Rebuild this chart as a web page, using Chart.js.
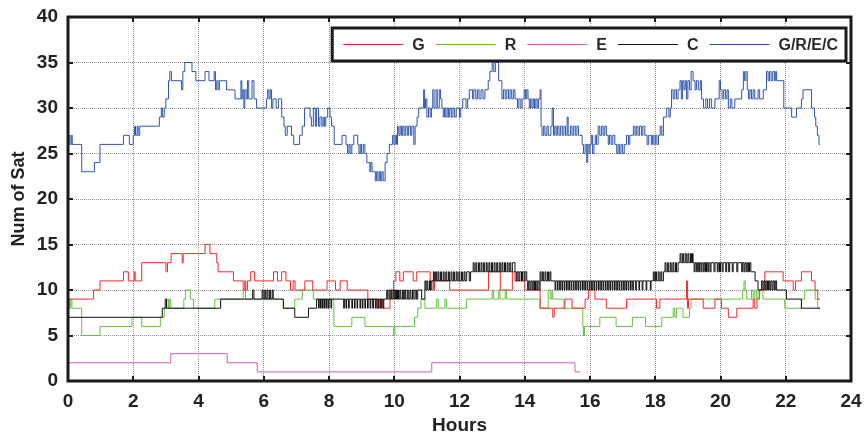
<!DOCTYPE html>
<html>
<head>
<meta charset="utf-8">
<script src="https://cdn.jsdelivr.net/npm/chart.js@4.4.1/dist/chart.umd.min.js"></script>
<style>
  html, body { margin: 0; padding: 0; background: #fff; }
  #wrap { width: 864px; height: 435px; position: relative; }
</style>
</head>
<body>
<div id="wrap"><canvas id="sat"></canvas></div>
<script>
// Number of visible satellites per constellation over 24 h (step data: [hour, count])
const seriesLabels = ['G', 'R', 'E', 'C', 'G/R/E/C'];
const xTicks = [0, 2, 4, 6, 8, 10, 12, 14, 16, 18, 20, 22, 24];
const yTicks = [0, 5, 10, 15, 20, 25, 30, 35, 40];

const gpsSats = [
  [0,9],[0.78,10],[0.98,11],[1.7,12],[1.85,11],[2.03,12],[2.06,11],[2.26,13],[3.0,12],[3.05,13],[3.16,14],
  [3.5,13],[3.53,14],[4.2,15],[4.35,14],[4.56,13],[4.6,12],[5.07,11],[5.37,10],[5.42,11],[5.45,10],[5.5,11],
  [5.6,12],[5.72,11],[6.3,12],[6.42,11],[6.55,12],[6.68,11],[6.82,10],[6.9,11],[6.96,10],[7.26,11],[7.5,10],
  [7.94,11],[8.2,10],[8.34,11],[8.56,10],[9.19,9],[9.46,8],[9.5,9],[9.54,8],[9.6,9],[9.64,8],[9.87,9],
  [9.92,10],[9.98,11],[10.05,12],[10.17,11],[10.28,12],[10.58,11],[10.69,12],[11.1,11],[11.2,10],[11.23,11],
  [11.7,10],[12.89,12],[13.25,10],[13.62,12],[13.7,11],[14.0,10],[14.47,8],[14.86,7],[14.9,8],[15.23,9],
  [15.45,8],[15.85,9],[15.95,10],[16.15,9],[16.5,8],[17.12,9],[18.04,8],[18.14,9],[18.96,11],[18.99,8],
  [19.02,9],[19.47,8],[19.83,9],[20.03,8],[20.24,7],[20.5,8],[21.0,9],[21.05,8],[21.12,9],[21.2,10],
  [21.36,12],[21.92,11],[22.23,10],[22.3,11],[22.48,12],[22.79,11],[22.9,10],[22.98,9],[23.05,9]
];

const glonassSats = [
  [0,9],[0.04,8],[0.08,9],[0.12,8],[0.42,5],[0.98,6],[1.96,7],[2.26,6],[2.83,7],[2.95,8],[3.03,9],[3.08,8],
  [3.12,9],[3.15,8],[3.55,9],[3.6,10],[3.75,9],[3.85,8],[4.5,9],[5.37,10],[5.44,9],[6.6,8],[6.95,9],[7.18,10],
  [7.52,9],[8.15,6],[8.7,7],[9.1,6],[9.98,5],[10.02,6],[10.62,7],[10.72,8],[10.82,9],[10.94,8],[11.3,9],
  [11.35,8],[11.55,9],[11.6,8],[12.22,9],[13.0,10],[13.04,9],[13.2,10],[13.24,9],[13.4,10],[13.44,9],
  [14.47,8],[14.72,10],[14.78,9],[14.83,10],[14.86,9],[15.2,8],[15.78,6],[15.8,5],[15.83,6],[16.3,7],
  [16.8,6],[17.3,7],[17.7,6],[18.2,7],[18.55,8],[18.6,7],[18.65,8],[18.85,7],[19.05,8],[19.1,9],[20.68,10],
  [20.72,11],[20.76,10],[20.8,9],[20.95,10],[21.0,9],[21.05,10],[21.1,9],[21.15,10],[21.3,9],[21.97,8],
  [22.48,9],[22.58,10],[22.9,9],[22.98,8],[23.05,8]
];

const galileoSats = [
  [0,2],[3.15,3],[4.88,2],[5.8,1],[11.15,2],[15.54,1],[15.7,1]
];

const beidouSats = [
  [0,7],[2.89,8],[2.98,9],[3.02,8],[4.68,9],[5.66,10],[5.7,9],[5.95,10],[5.98,9],[6.03,10],[6.06,9],[6.1,10],
  [6.13,9],[6.18,10],[6.21,9],[6.26,10],[6.29,9],[6.6,8],[6.95,7],[7.37,8],[7.62,9],
  [7.68,8],[7.7,9],[7.74,8],[7.76,9],[7.8,8],[7.82,9],[7.86,8],[7.88,9],[7.92,8],[7.94,9],[7.98,8],[8.0,9],
  [8.06,8],[8.08,9],[8.45,8],[8.47,9],[8.52,8],[8.54,9],[8.6,8],[8.62,9],[8.7,8],[8.72,9],[8.78,8],[8.8,9],
  [8.86,8],[8.88,9],[8.95,8],[8.97,9],[9.02,8],[9.04,9],[9.1,8],[9.12,9],[9.18,8],[9.2,9],[9.26,8],[9.28,9],
  [9.34,8],[9.36,9],[9.42,8],[9.44,9],[9.5,8],[9.52,9],[9.58,8],[9.6,9],[9.66,8],[9.68,9],
  [9.77,10],[9.8,9],[9.84,10],[9.87,9],[9.9,10],[9.93,9],[9.97,10],[10.0,9],[10.04,10],[10.07,9],[10.1,10],
  [10.13,9],[10.17,10],[10.2,9],[10.25,10],[10.28,9],[10.32,10],[10.35,9],[10.4,10],[10.43,9],[10.48,10],
  [10.51,9],[10.56,10],[10.6,9],[10.64,10],[10.68,9],[10.72,10],[10.84,9],[10.94,11],[10.97,10],[11.0,11],
  [11.03,10],[11.08,11],[11.11,10],[11.15,11],
  [11.2,12],[11.23,11],[11.27,12],[11.3,11],[11.34,12],[11.37,11],[11.42,12],[11.45,11],[11.5,12],[11.53,11],
  [11.58,12],[11.61,11],[11.66,12],[11.69,11],[11.74,12],[11.77,11],[11.82,12],[11.85,11],[11.9,12],[11.93,11],
  [11.98,12],[12.01,11],[12.06,12],[12.09,11],[12.14,12],[12.17,11],[12.22,12],[12.3,11],[12.34,12],
  [12.42,13],[12.45,12],[12.5,13],[12.53,12],[12.58,13],[12.61,12],[12.66,13],[12.69,12],[12.74,13],[12.77,12],
  [12.82,13],[12.85,12],[12.9,13],[12.93,12],[12.98,13],[13.01,12],[13.06,13],[13.09,12],[13.14,13],[13.17,12],
  [13.22,13],[13.25,12],[13.3,13],[13.33,12],[13.38,13],[13.41,12],[13.46,13],[13.49,12],[13.54,13],[13.57,12],
  [13.62,13],[13.7,12],[13.74,11],[13.77,12],[13.82,11],[13.85,12],[13.9,11],[13.93,12],[13.98,11],[14.01,12],
  [14.06,11],[14.09,10],[14.12,11],[14.16,10],[14.19,11],[14.23,10],[14.26,11],[14.3,10],[14.33,11],[14.37,10],
  [14.4,11],[14.44,10],[14.47,12],[14.5,11],[14.54,12],[14.57,11],[14.62,12],[14.65,11],[14.7,12],[14.73,11],
  [14.77,12],[14.8,11],
  [14.93,10],[14.95,11],[15.0,10],[15.02,11],[15.07,10],[15.09,11],[15.14,10],[15.16,11],[15.21,10],[15.23,11],
  [15.28,10],[15.3,11],[15.35,10],[15.37,11],[15.42,10],[15.44,11],[15.49,10],[15.51,11],[15.56,10],[15.58,11],
  [15.63,10],[15.65,11],[15.7,10],[15.72,11],[15.77,10],[15.79,11],[15.84,10],[15.86,11],[15.91,10],[15.93,11],
  [15.98,10],[16.0,11],[16.05,10],[16.07,11],[16.12,10],[16.14,11],[16.19,10],[16.21,11],[16.26,10],[16.28,11],
  [16.33,10],[16.35,11],[16.4,10],[16.42,11],[16.47,10],[16.49,11],[16.54,10],[16.56,11],[16.61,10],[16.63,11],
  [16.68,10],[16.7,11],[16.75,10],[16.77,11],[16.82,10],[16.84,11],[16.89,10],[16.91,11],[16.96,10],[16.98,11],
  [17.03,10],[17.05,11],[17.1,10],[17.12,11],[17.17,10],[17.19,11],[17.24,10],[17.26,11],[17.31,10],[17.33,11],
  [17.4,10],[17.42,11],[17.5,10],[17.52,11],[17.6,10],[17.62,11],[17.72,10],[17.74,11],[17.85,10],[17.87,11],
  [17.94,12],[17.97,11],[18.01,12],[18.04,11],[18.09,12],[18.12,11],[18.17,12],[18.2,11],[18.25,12],
  [18.3,13],[18.33,12],[18.38,13],[18.41,12],[18.46,13],[18.49,12],[18.54,13],[18.57,12],[18.62,13],[18.65,12],
  [18.7,13],[18.76,14],[18.79,13],[18.84,14],[18.87,13],[18.92,14],[18.95,13],[19.0,14],[19.03,13],[19.08,14],
  [19.11,13],[19.14,14],[19.16,13],[19.19,12],[19.22,13],[19.26,12],[19.29,13],[19.33,12],[19.36,13],[19.4,12],
  [19.43,13],[19.47,12],[19.5,13],[19.54,12],[19.57,13],[19.61,12],[19.64,13],[19.68,12],[19.71,13],[19.8,12],
  [19.83,13],[19.9,12],[19.93,13],[19.97,12],[20.0,13],[20.05,12],[20.08,13],[20.16,12],[20.19,13],[20.25,12],
  [20.28,13],[20.36,12],[20.39,13],[20.5,12],[20.53,13],[20.65,12],[20.68,13],[20.72,12],[20.75,13],[20.79,12],
  [20.82,13],[20.86,12],[20.89,13],[20.93,12],[21.06,11],[21.15,10],[21.26,11],[21.3,10],[21.33,11],[21.37,10],
  [21.4,11],[21.44,10],[21.47,11],[21.51,10],[21.54,11],[21.58,10],[21.61,11],[21.65,10],[21.68,11],[21.72,10],
  [22.02,9],[22.48,8],[23.05,8]
];

const allSats = [
  [0,26],[0.03,27],[0.06,26],[0.1,27],[0.13,26],[0.42,23],[0.81,24],[0.98,26],[1.7,27],[1.88,26],[2.0,27],
  [2.04,28],[2.07,27],[2.12,28],[2.15,27],[2.2,28],[2.8,29],[2.86,30],[2.9,29],[2.95,30],[3.0,31],[3.08,33],
  [3.12,34],[3.17,33],[3.48,32],[3.52,34],[3.58,35],[3.8,34],[3.92,33],[4.2,34],[4.32,33],[4.48,34],[4.52,32],
  [4.56,33],[4.6,32],[4.64,33],[4.86,32],[5.12,31],[5.3,33],[5.33,31],[5.36,32],[5.39,30],[5.42,32],[5.46,31],
  [5.5,33],[5.54,31],[5.64,33],[5.7,31],[5.78,30],[6.08,31],[6.12,32],[6.16,31],[6.2,32],[6.24,30],[6.28,31],
  [6.38,30],[6.45,31],[6.55,29],[6.62,28],[6.66,27],[6.72,28],[6.85,27],[6.92,26],[7.1,27],[7.18,28],[7.25,30],
  [7.42,29],[7.46,28],[7.52,30],[7.58,28],[7.62,30],[7.68,28],[7.72,29],[7.78,28],[7.82,29],[7.86,28],[7.9,29],
  [7.96,30],[8.03,29],[8.08,28],[8.16,26],[8.4,27],[8.52,26],[8.57,25],[8.61,26],[8.65,25],[8.7,26],[8.76,27],
  [8.88,26],[8.92,25],[8.96,26],[9.0,25],[9.05,26],[9.1,25],[9.16,24],[9.25,23],[9.28,24],[9.32,23],[9.42,22],
  [9.46,23],[9.5,22],[9.54,23],[9.58,22],[9.62,23],[9.66,22],[9.72,24],[9.78,25],[9.85,26],[9.95,27],[9.99,26],
  [10.03,27],[10.07,26],[10.1,28],[10.14,27],[10.18,28],[10.22,27],[10.26,28],[10.3,27],[10.35,28],[10.4,27],
  [10.44,28],[10.5,27],[10.54,28],[10.6,26],[10.64,28],[10.7,29],[10.75,30],[10.9,32],[10.93,30],[10.96,31],
  [11.0,29],[11.05,30],[11.1,29],[11.14,30],[11.18,32],[11.22,30],[11.28,32],[11.32,30],[11.38,32],[11.42,31],
  [11.46,30],[11.5,29],[11.54,30],[11.58,29],[11.62,30],[11.66,29],[11.7,30],[11.75,29],[11.8,30],[11.85,29],
  [11.9,30],[12.0,29],[12.04,30],[12.1,31],[12.2,30],[12.25,31],[12.3,32],[12.4,31],[12.44,32],[12.5,31],
  [12.55,32],[12.6,31],[12.66,32],[12.72,31],[12.78,32],[12.88,33],[12.93,34],[13.0,35],[13.05,34],[13.1,35],
  [13.2,33],[13.3,31],[13.35,32],[13.4,31],[13.45,32],[13.5,31],[13.55,32],[13.6,31],[13.65,32],[13.7,31],
  [13.78,30],[13.82,31],[13.88,30],[13.92,31],[13.98,32],[14.02,31],[14.06,32],[14.1,31],[14.14,30],[14.18,31],
  [14.22,30],[14.26,31],[14.3,30],[14.34,31],[14.38,30],[14.42,31],[14.47,32],[14.5,28],[14.53,27],[14.58,28],
  [14.62,27],[14.68,28],[14.72,27],[14.8,28],[14.84,30],[14.88,27],[14.92,28],[14.96,27],[15.0,28],[15.05,27],
  [15.1,28],[15.15,27],[15.2,28],[15.25,27],[15.3,29],[15.33,27],[15.4,28],[15.45,27],[15.5,28],[15.55,27],
  [15.6,28],[15.65,27],[15.76,26],[15.8,25],[15.85,26],[15.9,24],[15.93,26],[15.97,25],[16.0,26],[16.04,27],
  [16.08,25],[16.12,26],[16.16,27],[16.2,26],[16.25,28],[16.3,27],[16.35,28],[16.4,27],[16.45,28],[16.5,27],
  [16.56,26],[16.6,27],[16.65,26],[16.7,27],[16.76,26],[16.82,25],[16.86,26],[16.9,25],[16.95,26],[17.0,25],
  [17.05,26],[17.12,27],[17.18,26],[17.22,27],[17.33,28],[17.38,27],[17.42,28],[17.47,27],[17.52,28],[17.58,27],
  [17.62,28],[17.68,27],[17.75,26],[17.8,27],[17.88,26],[17.92,27],[17.96,26],[18.0,27],[18.05,26],[18.1,27],
  [18.15,28],[18.2,27],[18.25,29],[18.35,30],[18.42,29],[18.46,30],[18.5,32],[18.55,31],[18.6,32],[18.65,31],
  [18.7,32],[18.76,33],[18.8,31],[18.84,33],[18.88,32],[18.92,33],[18.96,31],[19.0,33],[19.05,32],[19.1,34],
  [19.16,33],[19.22,32],[19.26,33],[19.32,32],[19.38,33],[19.42,31],[19.48,30],[19.55,31],[19.6,30],[19.66,31],
  [19.72,30],[19.83,31],[19.96,33],[20.0,32],[20.05,31],[20.1,32],[20.15,31],[20.2,32],[20.24,30],[20.3,31],
  [20.35,30],[20.44,31],[20.65,32],[20.7,34],[20.74,33],[20.78,34],[20.82,32],[20.86,31],[20.9,32],[20.95,31],
  [21.0,32],[21.05,31],[21.15,32],[21.2,31],[21.31,32],[21.41,34],[21.46,33],[21.5,34],[21.55,33],[21.6,34],
  [21.65,33],[21.68,34],[21.72,33],[21.94,30],[22.18,29],[22.33,30],[22.48,31],[22.53,32],[22.79,30],[22.88,29],
  [22.92,28],[22.97,27],[23.02,26],[23.05,26]
];

const lineColors = ['#f02a2a', '#66c040', '#cc5cb8', '#111111', '#2f55aa'];
const seriesData = [gpsSats, glonassSats, galileoSats, beidouSats, allSats];
const drawOrder = [1, 2, 4, 0, 3];

const FONT = '"Liberation Sans", Arial, sans-serif';

// frame, inward tick marks and the boxed legend
const framePlugin = {
  id: 'frame',
  afterDraw(chart) {
    const { ctx, chartArea: a, scales } = chart;
    ctx.save();
    ctx.strokeStyle = '#1a1a1a';
    ctx.lineWidth = 2;
    const tl = 5;
    xTicks.forEach(v => {
      const x = Math.round(scales.x.getPixelForValue(v));
      ctx.beginPath();
      ctx.moveTo(x, a.bottom); ctx.lineTo(x, a.bottom - tl);
      ctx.moveTo(x, a.top); ctx.lineTo(x, a.top + tl);
      ctx.stroke();
    });
    yTicks.forEach(v => {
      const y = Math.round(scales.y.getPixelForValue(v));
      ctx.beginPath();
      ctx.moveTo(a.left, y); ctx.lineTo(a.left + tl, y);
      ctx.moveTo(a.right, y); ctx.lineTo(a.right - tl, y);
      ctx.stroke();
    });
    ctx.lineWidth = 3;
    ctx.strokeRect(a.left, a.top, a.right - a.left, a.bottom - a.top);

    // legend
    ctx.font = 'bold 16px ' + FONT;
    const lineLen = 60, gapText = 9, gapItem = 11, padL = 11, padR = 8;
    const widths = chart.data.datasets.map(d => ctx.measureText(d.label).width);
    let total = padL + padR;
    widths.forEach((w, i) => { total += lineLen + gapText + w + (i < widths.length - 1 ? gapItem : 0); });
    const boxR = a.right - 5, boxT = a.top + 11, boxH = 33;
    const boxL = boxR - total;
    ctx.fillStyle = '#fff';
    ctx.fillRect(boxL, boxT, total, boxH);
    ctx.lineWidth = 3;
    ctx.strokeStyle = '#1a1a1a';
    ctx.strokeRect(boxL, boxT, total, boxH);
    const cy = boxT + boxH / 2;
    let x = boxL + padL;
    ctx.textBaseline = 'middle';
    chart.data.datasets.forEach((d, i) => {
      ctx.strokeStyle = d.borderColor;
      ctx.lineWidth = 1.2;
      ctx.beginPath();
      ctx.moveTo(x, cy); ctx.lineTo(x + lineLen, cy);
      ctx.stroke();
      x += lineLen + gapText;
      ctx.fillStyle = '#2a2a2a';
      ctx.fillText(d.label, x, cy + 1);
      x += widths[i] + gapItem;
    });
    ctx.restore();
  }
};

new Chart(document.getElementById('sat'), {
  type: 'line',
  data: {
    datasets: seriesLabels.map((label, i) => ({
      label,
      data: seriesData[i],
      borderColor: lineColors[i],
      borderWidth: 1,
      stepped: true,
      pointRadius: 0,
      fill: false,
      order: drawOrder[i],
    }))
  },
  options: {
    responsive: true,
    maintainAspectRatio: false,
    animation: false,
    layout: { padding: { left: 0, right: 13, top: 17, bottom: 0 } },
    plugins: {
      legend: { display: false },
      tooltip: { enabled: false },
    },
    scales: {
      x: {
        type: 'linear',
        min: 0, max: 24,
        afterFit: s => { s.height = 54; s.paddingLeft = 0; s.paddingRight = 0; },
        afterBuildTicks: s => { s.ticks = xTicks.map(v => ({ value: v })); },
        ticks: { color: '#222', padding: 9, maxRotation: 0, font: { family: FONT, size: 19, weight: 'bold' } },
        grid: { color: 'rgba(60,60,60,0.55)', drawTicks: false },
        border: { display: false, dash: [1, 1] },
        title: { display: true, text: 'Hours', color: '#222', padding: { top: 0, bottom: -2 }, font: { family: FONT, size: 19, weight: 'bold' } },
      },
      y: {
        min: 0, max: 40,
        afterFit: s => { s.width = 68; s.paddingTop = 0; s.paddingBottom = 0; },
        afterBuildTicks: s => { s.ticks = yTicks.map(v => ({ value: v })); },
        ticks: { color: '#222', padding: 10, font: { family: FONT, size: 19, weight: 'bold' } },
        grid: { color: 'rgba(60,60,60,0.55)', drawTicks: false },
        border: { display: false, dash: [1, 1] },
        title: { display: true, text: 'Num of Sat', color: '#222', padding: { top: 8, bottom: 0 }, font: { family: FONT, size: 18, weight: 'bold' } },
      }
    }
  },
  plugins: [framePlugin]
});
</script>
</body>
</html>
